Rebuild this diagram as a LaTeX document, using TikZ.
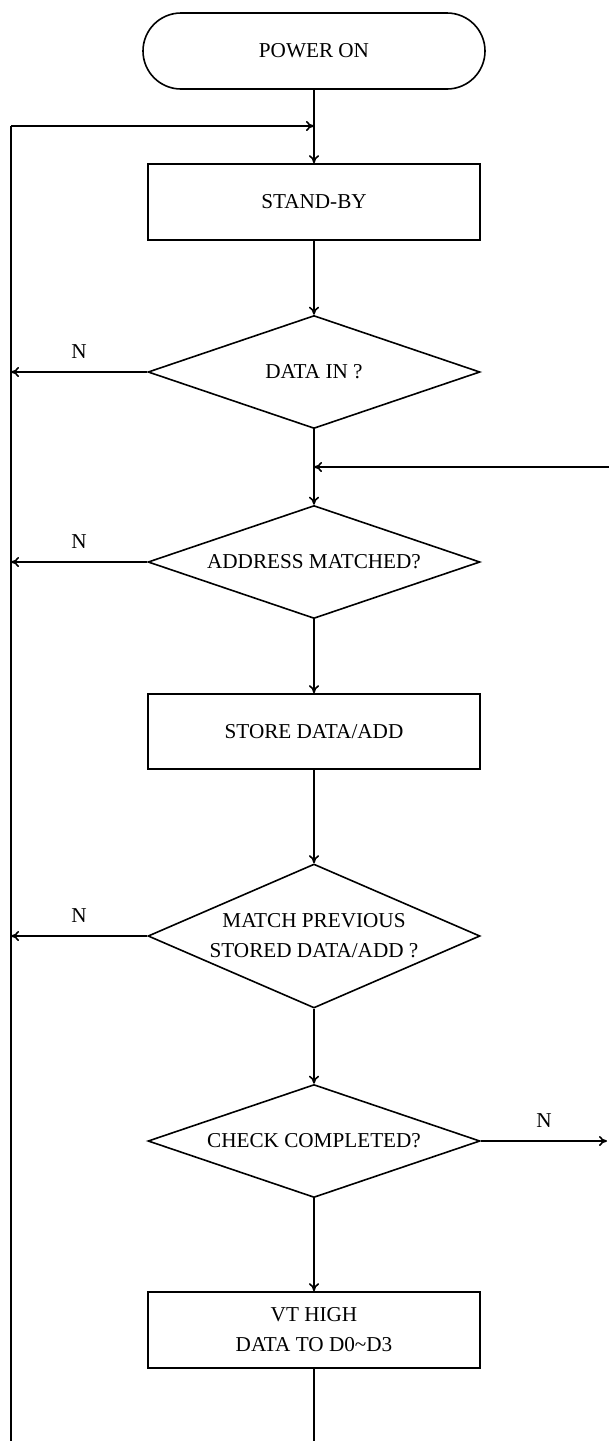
\documentclass[tikz,border=0pt]{standalone}
\usepackage{fontspec}
\setmainfont{Liberation Serif}
\usetikzlibrary{shapes.geometric, arrows.meta}

\tikzset{
  flow/.style={line width=0.8pt, -{To[length=4pt, width=5pt]}},
  startbox/.style={draw, line width=0.8pt, rounded corners=19pt,
    minimum width=171pt, minimum height=38pt, inner sep=0pt},
  procbox/.style={draw, line width=0.8pt, minimum width=166pt,
    minimum height=38pt, inner sep=0pt, align=center},
  testbox/.style={draw, diamond, aspect=2.94, line width=0.8pt, inner sep=0pt,
    minimum width=166pt, minimum height=56.5pt, align=center}
}

\begin{document}
\begin{tikzpicture}[x=0.5pt, y=-0.5pt, font=\fontsize{10.6}{15}\selectfont]
  \useasboundingbox (0,0) rectangle (609,1441);

  % Draw the boxes of the chart
  \node[startbox] (power) at (314,51) {POWER ON};
  \node[procbox] (standby) at (314,202) {STAND-BY};
  \node[testbox] (datain) at (314,372) {DATA IN ?};
  \node[testbox] (addr) at (314,562) {ADDRESS MATCHED?};
  \node[procbox, minimum height=37.5pt] (store) at (314,731.5) {STORE DATA/ADD};
  \node[testbox, aspect=2.3, minimum height=72pt] (match) at (314,936) {MATCH PREVIOUS\\STORED DATA/ADD ?};
  \node[testbox] (check) at (314,1141) {CHECK COMPLETED?};
  \node[procbox] (vthigh) at (314,1330) {VT HIGH\\DATA TO D0\textasciitilde D3};

  % Points on the loop lines
  \coordinate (top) at (314,126);
  \coordinate (lefttop) at (11,126);
  \coordinate (leftbot) at (11,1441);
  \coordinate (back) at (314,467);
  \coordinate (backin) at (609,467);
  \coordinate (out) at (607,1141);
  \coordinate (bot) at (314,1441);

  % Main flow down the middle
  \draw[line width=0.8pt] (power) -- (top);
  \draw[flow] (top) -- (standby);
  \draw[flow] (standby) -- (datain);
  \draw[flow] (datain) -- (addr);
  \draw[flow] (addr) -- (store);
  \draw[flow] (store) -- (match);
  \draw[flow] (match) -- (check);
  \draw[flow] (check) -- (vthigh);
  \draw[line width=0.8pt] (vthigh) -- (bot);

  % Return line on the left
  \draw[line width=0.8pt] (leftbot) -- (lefttop);
  \draw[flow] (lefttop) -- (top);
  \foreach \n in {datain,addr,match} {
    \draw[flow] (\n.west) -- (\n.west -| lefttop) node[midway, above=3pt] {N};
  }

  % Lines on the right
  \draw[flow] (backin) -- (back);
  \draw[flow] (check.east) -- (out) node[midway, above=3pt] {N};

\end{tikzpicture}
\end{document}
